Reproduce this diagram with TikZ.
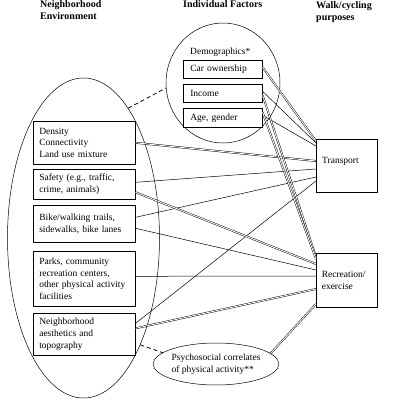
\documentclass[tikz,border=0pt]{standalone}
\usepackage{fontspec}
\setmainfont{Liberation Serif}
\usetikzlibrary{shapes.geometric}
\begin{document}
\begin{tikzpicture}[x=1pt,y=-1pt,
  txt/.style={font=\fontsize{9.5}{11.7}\selectfont},
  hdr/.style={font=\fontsize{10}{12}\selectfont\bfseries, anchor=north west, inner sep=0pt, align=left},
  fbox/.style={draw, line width=0.6pt, fill=white, anchor=north west, align=left,
               inner ysep=0pt, inner xsep=6pt, minimum width=102pt, text width=90pt, txt},
  dbox/.style={draw, line width=0.6pt, fill=white, anchor=north west, align=left,
               inner ysep=0pt, inner xsep=7pt, minimum width=79pt, text width=65pt, txt},
  pbox/.style={draw, line width=0.6pt, anchor=north west, minimum width=61pt, inner sep=0pt},
  oval/.style={draw, ellipse, line width=0.5pt, inner sep=0pt},
  sgl/.style={line width=0.5pt},
  dbl/.style={line width=0.45pt, double=white, double distance=0.9pt},
  dsh/.style={line width=0.8pt, dash pattern=on 4pt off 3pt}
]
\useasboundingbox (0,0) rectangle (400,400);

% headers
\node[hdr] (hne) at (40,0.3) {Neighborhood\\Environment};
\node[hdr] (hif) at (183,0.5) {Individual Factors};
\node[hdr] (hwc) at (316,1) {Walk/cycling\\purposes};

% ellipses
\node[oval, minimum width=152pt, minimum height=320pt] (env) at (83.5,238) {};
\node[oval, minimum width=114pt, minimum height=120pt] (demo) at (223,83) {};
\node[oval, minimum width=114pt, minimum height=42pt, align=left, txt] (psy) at (216,364)
  {Psychosocial correlates\\of physical activity**};

% demographics
\node[txt, anchor=base west, inner sep=0pt] (dlab) at (190,54) {Demographics*};
\node[dbox, minimum height=18pt] (car) at (183,60) {Car ownership};
\node[dbox, minimum height=18pt] (inc) at (183,84) {Income};
\node[dbox, minimum height=19pt] (age) at (183,108) {Age, gender};

% environment boxes
\node[fbox, minimum height=43pt] (b1) at (33,121) {Density\\Connectivity\\Land use mixture};
\node[fbox, minimum height=30pt] (b2) at (33,169) {Safety (e.g., traffic,\\crime, animals)};
\node[fbox, minimum height=37pt] (b3) at (33,205) {Bike/walking trails,\\sidewalks, bike lanes};
\node[fbox, minimum height=55pt] (b4) at (33,251) {Parks, community\\recreation centers,\\\mbox{other physical activity}\\facilities};
\node[fbox, minimum height=42pt] (b5) at (33,313) {Neighborhood\\aesthetics and\\topography};

% purposes
\node[pbox, minimum height=53pt] (tr) at (316,139) {};
\node[txt, anchor=west, inner sep=0pt] (trt) at (322,161) {Transport};
\node[pbox, minimum height=54pt, align=left, txt, text width=50pt, inner xsep=5.5pt] (rec) at (316,253) {Recreation/\\exercise};

% dashed links
\draw[dsh] (env.71) -- (demo.185);
\draw[dsh] (env.-62) -- (psy.168);

% connectors to Transport
\draw[dbl] ([shift={(0,-2)}]car.east) -- ([shift={(0,2)}]tr.north west);
\draw[sgl] ([shift={(0,-2)}]inc.east) -- ([shift={(0,4)}]tr.north west);
\draw[sgl] ([shift={(0,-2.5)}]age.east) -- ([shift={(0,7)}]tr.north west);
\draw[dbl] (b1.east) -- ([shift={(0,22)}]tr.north west);
\draw[sgl] ([shift={(0,-2)}]b2.east) -- ([shift={(0,30)}]tr.north west);
\draw[sgl] ([shift={(0,-6.5)}]b3.east) -- ([shift={(0,38)}]tr.north west);
\draw[sgl] ([shift={(0,-11)}]b5.east) -- ([shift={(0,42)}]tr.north west);

% connectors to Recreation
\draw[dbl] ([shift={(0,2)}]inc.east) -- ([shift={(0,4)}]rec.north west);
\draw[dbl] ([shift={(0,-5.5)}]age.east) -- ([shift={(0,6)}]rec.north west);
\draw[dbl] ([shift={(0,8)}]b2.east) -- ([shift={(0,11)}]rec.north west);
\draw[sgl] ([shift={(0,4.5)}]b3.east) -- ([shift={(0,17)}]rec.north west);
\draw[sgl] ([shift={(0,-2.5)}]b4.east) -- ([shift={(0,23)}]rec.north west);
\draw[dbl] ([shift={(0,-6)}]b5.east) -- ([shift={(0,36)}]rec.north west);
\draw[dbl] (psy.11) -- ([shift={(0,51)}]rec.north west);
\end{tikzpicture}
\end{document}
